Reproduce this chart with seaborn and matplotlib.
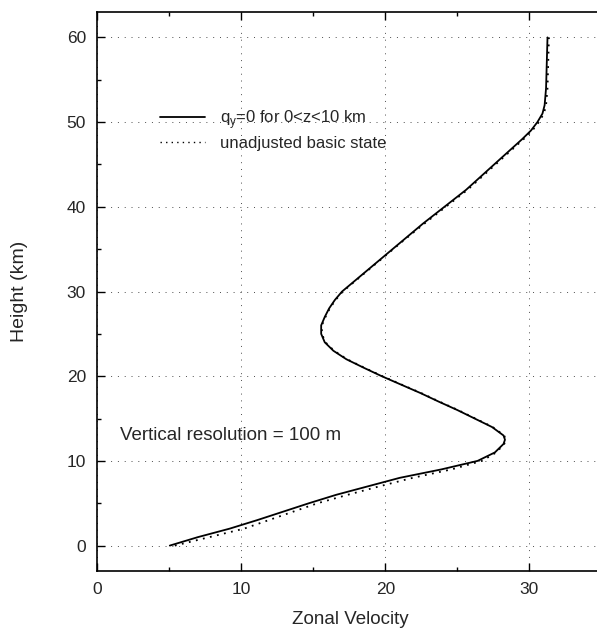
import seaborn as sns
import pandas as pd
import matplotlib.pyplot as plt
import matplotlib.ticker as ticker

# heights (km) where the profiles were read
height = [0, 1, 2, 3, 4, 5, 6, 7, 8, 9, 10, 11, 12, 12.5, 13, 14, 15, 16, 17,
          18, 19, 20, 21, 22, 23, 24, 25, 26, 27, 28, 29, 30, 32, 34, 36, 38,
          40, 42, 44, 46, 48, 49, 50, 51, 52, 54, 57, 60]

# q_y = 0 for 0<z<10 km (solid)
u_adjusted = [5.05, 7.0, 9.2, 11.1, 12.9, 14.7, 16.6, 18.8, 21.0, 23.9, 26.4,
              27.6, 28.2, 28.3, 28.2, 27.4, 26.2, 25.0, 23.7, 22.45, 21.1,
              19.75, 18.5, 17.3, 16.4, 15.8, 15.55, 15.55, 15.8, 16.1, 16.5,
              17.0, 18.4, 19.8, 21.2, 22.6, 24.1, 25.6, 26.9, 28.2, 29.5,
              30.1, 30.55, 30.9, 31.05, 31.15, 31.2, 31.25]

# unadjusted basic state (dotted)
u_basic = [5.4, 7.8, 10.2, 11.9, 13.6, 15.3, 17.4, 19.6, 21.9, 24.6, 26.7,
           27.7, 28.25, 28.35, 28.25, 27.45, 26.25, 25.05, 23.75, 22.5, 21.15,
           19.8, 18.55, 17.35, 16.45, 15.85, 15.6, 15.6, 15.85, 16.15, 16.55,
           17.05, 18.45, 19.85, 21.25, 22.7, 24.2, 25.7, 27.0, 28.3, 29.6,
           30.2, 30.65, 31.0, 31.15, 31.25, 31.3, 31.35]

labels = ["q$_\\mathregular{y}$=0 for 0<z<10 km", "unadjusted basic state"]

df = pd.concat([
    pd.DataFrame({"z": height, "u": u_adjusted, "case": labels[0]}),
    pd.DataFrame({"z": height, "u": u_basic, "case": labels[1]}),
])

sns.set_style("white")
plt.rcParams["font.family"] = ["Liberation Sans", "DejaVu Sans"]
plt.rcParams["mathtext.fontset"] = "custom"
plt.rcParams["mathtext.rm"] = "Liberation Sans"

fig = plt.figure(figsize=(5.97, 6.32), dpi=100)
ax = fig.add_axes([97 / 597, 1 - 571 / 632, (603 - 97) / 597, (571 - 12) / 632])

ax = sns.lineplot(
    data=df, x="u", y="z", hue="case", style="case",
    palette=["black", "black"], dashes=[(None, None), (1, 3)],
    sort=False, estimator=None, linewidth=1.3, ax=ax,
)
for line in ax.lines:
    if line.get_label() == labels[1]:
        line.set_linewidth(1.0)

ax.set_xlim(0, 35.1)
ax.set_ylim(-3, 63)
ax.xaxis.set_major_locator(ticker.MultipleLocator(10))
ax.xaxis.set_minor_locator(ticker.MultipleLocator(5))
ax.yaxis.set_major_locator(ticker.MultipleLocator(10))
ax.yaxis.set_minor_locator(ticker.MultipleLocator(5))
ax.tick_params(which="both", direction="in", top=True, left=True, bottom=True,
               right=False, labelsize=12.5, pad=8, color="black")
ax.tick_params(which="major", length=6, width=1)
ax.tick_params(which="minor", length=3, width=1)

ax.grid(True, which="major", linestyle=(0, (1, 6)), color="black",
        linewidth=0.7, alpha=0.7)
for s in ax.spines.values():
    s.set_color("black")
    s.set_linewidth(1.2)

ax.set_xlabel("Zonal Velocity", fontsize=13.5, labelpad=10)
ax.set_ylabel("Height (km)", fontsize=14, labelpad=28)

ax.text(1.6, 13.0, "Vertical resolution = 100 m", fontsize=13.5, va="center")

leg = ax.legend(loc="upper left", bbox_to_anchor=(0.095, 0.855), frameon=False,
                fontsize=12, handlelength=2.7, handletextpad=0.9,
                labelspacing=0.3, title=None)

fig.savefig("out.png", dpi=100)
